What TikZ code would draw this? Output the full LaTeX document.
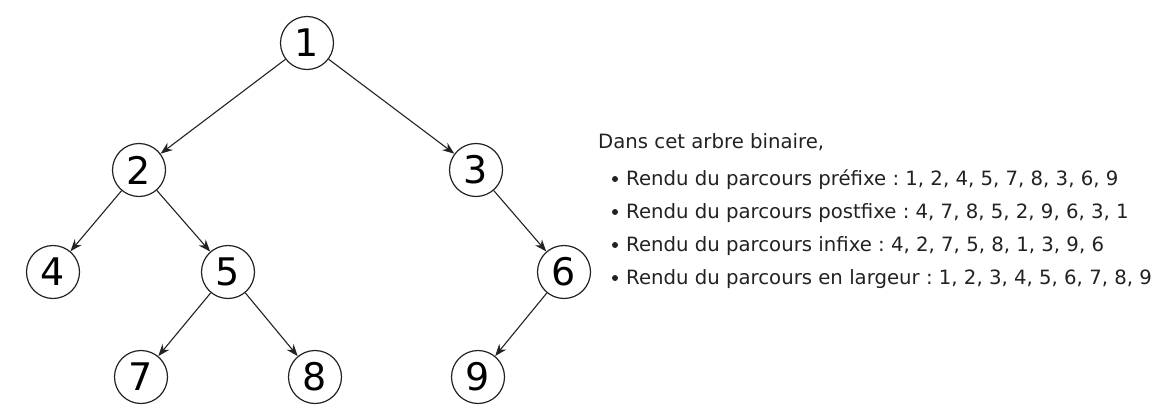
\documentclass[tikz,border=0pt]{standalone}
\usepackage{fontspec}
\setmainfont{DejaVu Sans}
\usepackage{tikz}
\usetikzlibrary{arrows.meta}
\definecolor{ink}{HTML}{222222}
\frenchspacing

\begin{document}
\begin{tikzpicture}[x=1pt,y=-1pt,
  noeud/.style={draw=ink,line width=1.2pt,circle,minimum size=53pt,inner sep=0pt,font=\fontsize{38}{38}\selectfont},
  fleche/.style={ink,line width=1.1pt,-{Stealth[length=12pt,width=9pt]}},
  puce/.style={fill=ink,circle,inner sep=0pt,minimum size=6pt},
  ligne/.style={anchor=base west,inner sep=0pt,text=ink,font=\fontsize{19.7}{19.7}\selectfont}]
\useasboundingbox (0,0) rectangle (1170,415);

\node[noeud] (n1) at (307,43) {1};
\node[noeud] (n2) at (139,170) {2};
\node[noeud] (n3) at (476,170) {3};
\node[noeud] (n4) at (53,272) {4};
\node[noeud] (n5) at (228,272) {5};
\node[noeud] (n6) at (564,272) {6};
\node[noeud] (n7) at (141,377) {7};
\node[noeud] (n8) at (315,377) {8};
\node[noeud] (n9) at (478,377) {9};

\draw[fleche] (n1) -- (n2);
\draw[fleche] (n1) -- (n3);
\draw[fleche] (n2) -- (n4);
\draw[fleche] (n2) -- (n5);
\draw[fleche] (n3) -- (n6);
\draw[fleche] (n5) -- (n7);
\draw[fleche] (n5) -- (n8);
\draw[fleche] (n6) -- (n9);

% texte a droite
\node[ligne] (titre) at (598,148) {Dans cet arbre binaire,};
\node[puce] (b1) at (615,179) {};
\node[ligne] (prefixe) at (626,185) {Rendu du parcours préfixe : 1, 2, 4, 5, 7, 8, 3, 6, 9};
\node[puce] (b2) at (615,212) {};
\node[ligne] (postfixe) at (626,218) {Rendu du parcours postfixe : 4, 7, 8, 5, 2, 9, 6, 3, 1};
\node[puce] (b3) at (615,245) {};
\node[ligne] (infixe) at (626,251) {Rendu du parcours infixe : 4, 2, 7, 5, 8, 1, 3, 9, 6};
\node[puce] (b4) at (615,278) {};
\node[ligne] (largeur) at (626,284) {Rendu du parcours en largeur : 1, 2, 3, 4, 5, 6, 7, 8, 9};
\end{tikzpicture}
\end{document}
